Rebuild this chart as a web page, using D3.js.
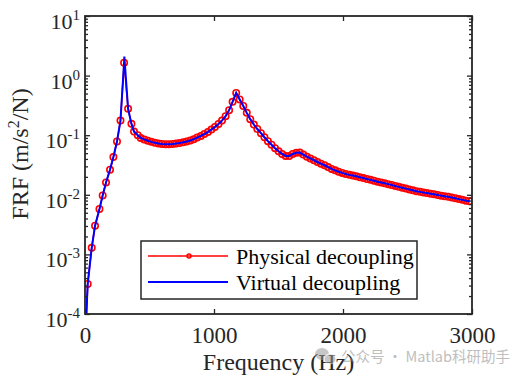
<!DOCTYPE html>
<html><head><meta charset="utf-8">
<script src="https://cdn.jsdelivr.net/npm/d3@7"></script>
<style>body{margin:0;background:#fff} svg{display:block}</style>
</head><body><svg id="c" width="525" height="377"></svg>
<script>
// ---- data ----
const physicalFreq = [21, 52, 78, 112, 137, 163, 194, 220, 248, 275, 303, 334, 360, 380, 409, 432,
  459, 487, 514, 542, 569, 596, 624, 651, 679, 706, 733, 761, 788, 816, 843, 870, 898, 925, 953, 980,
  1007, 1035, 1062, 1090, 1117, 1144, 1172, 1199, 1227, 1254, 1281, 1309, 1336, 1364, 1391, 1418,
  1446, 1473, 1501, 1528, 1555, 1583, 1610, 1638, 1665, 1692, 1720, 1747, 1775, 1802, 1829, 1857,
  1884, 1912, 1939, 1966, 1994, 2021, 2049, 2076, 2103, 2131, 2158, 2186, 2213, 2240, 2268, 2295,
  2323, 2350, 2377, 2405, 2432, 2460, 2487, 2514, 2542, 2569, 2597, 2624, 2651, 2679, 2706, 2734,
  2761, 2788, 2816, 2843, 2871, 2898, 2925, 2953, 2980];
const physicalFRF = [0.00032, 0.00129, 0.00303, 0.00578, 0.00977, 0.0161, 0.0263, 0.043, 0.0784, 0.176, 1.65, 0.277, 0.155, 0.115, 0.100, 0.090,
  0.0851, 0.0809, 0.0773, 0.0745, 0.0728, 0.0714, 0.0708, 0.0708, 0.0714, 0.0724, 0.0738, 0.0759, 0.0783, 0.0817, 0.0859, 0.0912, 0.0973, 0.1047, 0.1135, 0.1245,
  0.1374, 0.1542, 0.1758, 0.2089, 0.263, 0.3631, 0.5129, 0.398, 0.309, 0.237, 0.186, 0.151, 0.127, 0.108, 0.0923, 0.0794,
  0.0692, 0.0605, 0.0537, 0.0484, 0.0449, 0.0447, 0.0484, 0.0507, 0.0511, 0.0473, 0.0437, 0.0407, 0.0380, 0.0355, 0.0333, 0.0313,
  0.0292, 0.0272, 0.0257, 0.0244, 0.0233, 0.0224, 0.0216, 0.0210, 0.0204, 0.0197, 0.0191, 0.0184, 0.0178, 0.0172, 0.0166, 0.0161,
  0.0156, 0.0151, 0.0146, 0.0141, 0.0136, 0.0131, 0.0127, 0.0123, 0.0119, 0.0115, 0.0112, 0.0109, 0.0107, 0.0104, 0.0102, 0.00993,
  0.00968, 0.00944, 0.00923, 0.00902, 0.00875, 0.00847, 0.00822, 0.00798, 0.0078];
// extra points of the virtual (blue) curve where it differs visibly
const virtualExtraFreq = [6, 305];
const virtualExtraFRF = [0.00006, 2.08];
const xTickValues = [0, 1000, 2000, 3000];
const yTickExps = [-4, -3, -2, -1, 0, 1];
const legendLabels = ["Physical decoupling", "Virtual decoupling"];
const seriesColors = ["#ff0000", "#0000ff"];

// ---- layout ----
const M = {l: 85, r: 472, t: 16, b: 314};
const axisColor = "#262626";
const serif = "'Liberation Serif','Times New Roman',serif";
const svg = d3.select("#c");
const x = d3.scaleLinear().domain([0, 3000]).range([M.l, M.r]);
const y = d3.scaleLog().domain([1e-4, 10]).range([M.b, M.t]);

svg.append("defs").append("clipPath").attr("id", "clip")
  .append("rect").attr("x", M.l).attr("y", M.t).attr("width", M.r - M.l).attr("height", M.b - M.t);

const phys = physicalFreq.map((f, i) => ({f, v: physicalFRF[i]}));
const virt = phys.concat(virtualExtraFreq.map((f, i) => ({f, v: virtualExtraFRF[i]})))
  .sort((a, b) => a.f - b.f);
const physLine = [{f: virtualExtraFreq[0] + 2, v: virtualExtraFRF[0]}].concat(phys);

const line = d3.line().x(d => x(d.f)).y(d => y(d.v));
const g = svg.append("g").attr("clip-path", "url(#clip)");
g.append("path").datum(physLine).attr("d", line).attr("fill", "none")
  .attr("stroke", seriesColors[0]).attr("stroke-width", 1.5);
g.selectAll("circle.m").data(phys).join("circle").attr("class", "m")
  .attr("cx", d => x(d.f)).attr("cy", d => y(d.v)).attr("r", 3.2)
  .attr("fill", "none").attr("stroke", seriesColors[0]).attr("stroke-width", 1.6);
g.append("path").datum(virt).attr("d", line).attr("fill", "none")
  .attr("stroke", seriesColors[1]).attr("stroke-width", 2);

// ---- axes ----
const tickLen = 5, minorLen = 3;
function styleAxis(sel) {
  sel.select(".domain").remove();
  sel.selectAll(".tick line").attr("stroke", axisColor).attr("stroke-width", 1.3);
}
const xb = svg.append("g").attr("transform", `translate(0,${M.b})`)
  .call(d3.axisBottom(x).tickValues(xTickValues).tickSizeInner(-tickLen).tickSizeOuter(0).tickPadding(13).tickFormat(d3.format("d")));
styleAxis(xb);
xb.selectAll("text").attr("font-family", serif).attr("font-size", 23).attr("fill", axisColor);
const xt = svg.append("g").attr("transform", `translate(0,${M.t})`)
  .call(d3.axisTop(x).tickValues(xTickValues).tickSizeInner(-tickLen).tickSizeOuter(0).tickFormat(""));
styleAxis(xt);

const yDecades = yTickExps.map(e => Math.pow(10, e));
const yMinor = y.ticks().filter(v => !yDecades.some(d => Math.abs(d - v) / d < 1e-6));
const yl = svg.append("g").attr("transform", `translate(${M.l},0)`)
  .call(d3.axisLeft(y).tickValues(yDecades).tickSizeInner(-tickLen).tickSizeOuter(0).tickFormat(""));
styleAxis(yl);
const yr = svg.append("g").attr("transform", `translate(${M.r},0)`)
  .call(d3.axisRight(y).tickValues(yDecades).tickSizeInner(-tickLen).tickSizeOuter(0).tickFormat(""));
styleAxis(yr);
const ylm = svg.append("g").attr("transform", `translate(${M.l},0)`)
  .call(d3.axisLeft(y).tickValues(yMinor).tickSizeInner(-minorLen).tickSizeOuter(0).tickFormat(""));
styleAxis(ylm);
const yrm = svg.append("g").attr("transform", `translate(${M.r},0)`)
  .call(d3.axisRight(y).tickValues(yMinor).tickSizeInner(-minorLen).tickSizeOuter(0).tickFormat(""));
styleAxis(yrm);

// y tick labels 10^n
const ylab = svg.append("g");
yTickExps.forEach(e => {
  const t = ylab.append("text").attr("x", 80).attr("y", y(Math.pow(10, e)) + 13)
    .attr("text-anchor", "end").attr("font-family", serif).attr("fill", axisColor);
  t.append("tspan").attr("font-size", 22).text("10");
  t.append("tspan").attr("font-size", 15).attr("dy", -9).text(String(e));
});

// frame
svg.append("rect").attr("x", M.l).attr("y", M.t).attr("width", M.r - M.l).attr("height", M.b - M.t)
  .attr("fill", "none").attr("stroke", axisColor).attr("stroke-width", 1.8);

// axis labels
svg.append("text").attr("x", (M.l + M.r) / 2).attr("y", 370).attr("text-anchor", "middle")
  .attr("font-family", serif).attr("font-size", 24).attr("fill", axisColor).text("Frequency (Hz)");
const yLabel = svg.append("text").attr("transform", "translate(28,154) rotate(-90)")
  .attr("text-anchor", "middle").attr("font-family", serif).attr("font-size", 24).attr("fill", axisColor);
yLabel.append("tspan").text("FRF (m/s");
yLabel.append("tspan").attr("font-size", 16).attr("dy", -9).text("2");
yLabel.append("tspan").attr("dy", 9).text("/N)");

// legend
const L = {x: 141, y: 241, w: 276, h: 58};
const lg = svg.append("g");
lg.append("rect").attr("x", L.x).attr("y", L.y).attr("width", L.w).attr("height", L.h)
  .attr("fill", "#fff").attr("stroke", axisColor).attr("stroke-width", 1.5);
legendLabels.forEach((lab, i) => {
  const cy = 256 + i * 26;
  lg.append("line").attr("x1", 148).attr("x2", 228).attr("y1", cy).attr("y2", cy)
    .attr("stroke", seriesColors[i]).attr("stroke-width", i === 0 ? 1.5 : 2);
  if (i === 0) lg.append("circle").attr("cx", 189).attr("cy", cy).attr("r", 2)
    .attr("fill", "none").attr("stroke", seriesColors[0]).attr("stroke-width", 1.5);
  lg.append("text").attr("x", 236).attr("y", cy + 8).attr("font-family", serif)
    .attr("font-size", 22).attr("fill", "#000").text(lab);
});

// watermark
const wm = svg.append("g").attr("opacity", 0.55);
wm.append("ellipse").attr("cx", 322).attr("cy", 354).attr("rx", 7).attr("ry", 6).attr("fill", "#9a9a9a");
wm.append("ellipse").attr("cx", 330).attr("cy", 359).attr("rx", 6).attr("ry", 5).attr("fill", "#9a9a9a").attr("stroke", "#fff").attr("stroke-width", 1);
wm.append("text").attr("x", 341).attr("y", 362).attr("font-family", "'Noto Sans CJK SC','Noto Sans',sans-serif")
  .attr("font-size", 14.5).attr("fill", "#8a8a8a").text("公众号 · Matlab科研助手");
</script></body></html>
